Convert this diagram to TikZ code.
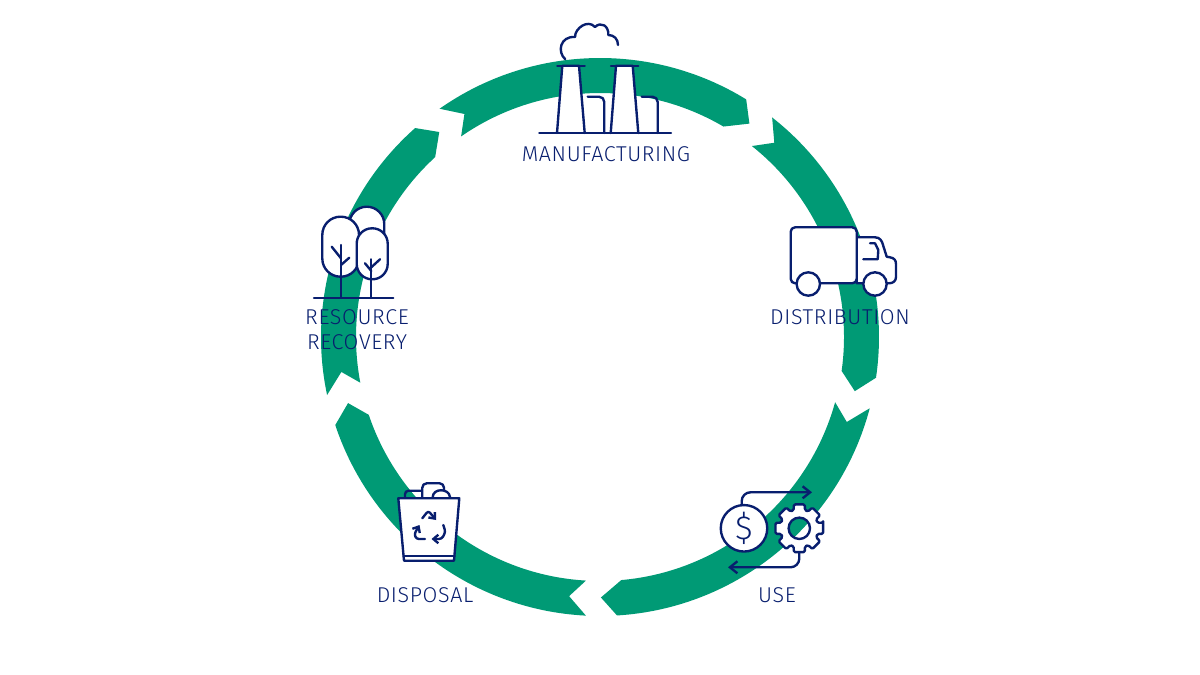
\documentclass[tikz,border=0pt]{standalone}
\usepackage{fontspec}
\setmainfont{Fira Sans Light}[LetterSpace=3]
\usetikzlibrary{arrows.meta}

\definecolor{ringgreen}{RGB}{0,154,117}
\definecolor{iconnavy}{RGB}{8,30,110}

\tikzset{
    iconline/.style={draw=iconnavy, line width=1.35pt, line join=round, line cap=round},
    iconfill/.style={iconline, fill=white},
    iconarrow/.style={iconline, -{Straight Barb[length=1.5mm,width=2.4mm]}},
    smallarrow/.style={iconline, rounded corners=1.5pt, -{Straight Barb[length=1mm,width=1.7mm]}},
    steplabel/.style={text=iconnavy, font=\fontsize{12.2pt}{14.2pt}\selectfont, align=center, inner sep=0pt}
}

\begin{document}
\begin{tikzpicture}[x=0.02cm, y=-0.02cm]

    \useasboundingbox (0,0) rectangle (1200,675);

    % Draw the five arrow segments of the ring
    \begin{scope}[shift={(600,337)}, y=0.02cm]
        \foreach \ta/\tn/\ti/\ha/\hn/\hi in {125.1/121.3/124.7/58.4/55/59.6,
                                             51.9/48.1/51.5/-8.4/-12/-8,
                                             -14.8/-19/-15.5/-86.5/-89.8/-85,
                                             -92.9/-96.8/-93.3/-161.6/-165.3/-161.4,
                                             -168/-172.3/-169.2/-228.5/-231.9/-227.5}
            \fill[ringgreen] (\ta:279) arc[start angle=\ta, end angle=\ha, radius=279]
                -- (\hn:260.5) -- (\hi:244) arc[start angle=\hi, end angle=\ti, radius=244]
                -- (\tn:261) -- cycle;
    \end{scope}

    % Factory: smoke, chimneys and low buildings
    \draw[iconline] (565.3,59.3) .. controls (557,52) and (560,36) .. (575,37)
        .. controls (575,28) and (588,19) .. (595,27)
        .. controls (601,21) and (609,26) .. (608.3,35)
        .. controls (614,35) and (618,39) .. (618,45);
    \draw[iconline] (587.7,96.7) [rounded corners=3pt] -- (604.3,96.7) -- (604.3,133);
    \draw[iconline] (641.7,96.7) [rounded corners=3pt] -- (657.7,96.7) -- (657.7,133);
    \draw[iconfill] (557,133) -- (562.3,65.7) -- (579,65.7) -- (584.7,133);
    \draw[iconfill] (610.7,133) -- (616,65.7) -- (632.7,65.7) -- (638.3,133);
    \draw[iconline] (557.3,65.7) -- (584.7,65.7);
    \draw[iconline] (611,65.7) -- (638.3,65.7);
    \draw[iconline] (539.3,133) -- (671,133);
    \node[steplabel] (manufacturing) at (606,154) {MANUFACTURING};

    % Truck
    \draw[iconfill] (856.7,237.3) -- (875,237.3) .. controls (880,237.3) and (882,241) .. (883,245)
        -- (886.7,256.7) -- (890,257.3) .. controls (894,258) and (896,260) .. (896,264)
        -- (896,277) .. controls (896,281) and (893,283.3) .. (889,283.3) -- (856.7,283.3) -- cycle;
    \draw[iconfill, rounded corners=2.5pt] (790.7,227.3) rectangle (856.7,283.3);
    \draw[iconline] (870,243.3) -- (875,243.3) -- (878.3,250) -- (877.7,259.3) -- (863.3,259.3);
    \draw[iconfill] (808.3,284) circle(11.7);
    \draw[iconfill] (875,284) circle(11.7);
    \node[steplabel] (distribution) at (840,317) {DISTRIBUTION};

    % Coin and gear with the two exchange arrows
    \draw[iconarrow, rounded corners=5pt] (741.7,506) -- (741.7,492.3) -- (812,492.3);
    \draw[iconarrow, rounded corners=5pt] (799.3,550) -- (799.3,567.3) -- (728,567.3);
    \node[iconfill, circle, minimum size=0.93cm, inner sep=0pt, text=iconnavy,
          font=\fontsize{19pt}{19pt}\selectfont] (coin) at (744,528.3) {\$};
    \begin{scope}[shift={(799.3,528.3)}]
        \draw[iconfill, even odd rule, rounded corners=0.8pt] (-13:24.5)
            \foreach \a in {0,45,...,315} {
                -- (\a-13:24.5) -- (\a+13:24.5) -- (\a+17:19) -- (\a+28:19)
            } -- cycle
            (0,0) circle(10.7);
    \end{scope}
    \node[steplabel] (use) at (777,595) {USE};

    % Bin with its contents and recycling arrows
    \draw[iconline, rounded corners=2pt] (405,497) -- (405,490.7) -- (422.3,490.7);
    \draw[iconfill, rounded corners=2.5pt] (422.3,497) -- (422.3,483.3) -- (444,483.3) -- (444,492);
    \draw[iconfill] (432.7,497) .. controls (433,488) and (449,488) .. (450,497);
    \draw[iconfill] (398.3,498.3) -- (459.3,498.3) -- (454,560.7) -- (404,560.7) -- cycle;
    \draw[iconline] (403.5,556) -- (454.5,556);
    \draw[smallarrow] (422.3,518.3) -- (428.3,510.7) -- (436,520);
    \draw[smallarrow] (425,539) -- (416.3,539) -- (414.3,534) -- (419.5,525);
    \draw[smallarrow] (443.3,525) -- (445.5,532) -- (441.7,539) -- (431.5,539);
    \node[steplabel] (disposal) at (425,595) {DISPOSAL};

    % Trees
    \draw[iconfill] (349.3,242) -- (349.3,224.2) arc[start angle=180, end angle=360, radius=17.5] -- (384.3,242);
    \draw[iconfill, rounded corners=10.3pt] (322.3,216.7) rectangle (359,276.7);
    \draw[iconline] (341,245) -- (341,298);
    \draw[iconline] (331.7,246.7) -- (341,258.3);
    \draw[iconline] (349.3,257.7) -- (341,265);
    \draw[iconfill, rounded corners=8.7pt] (356.7,228.3) rectangle (387.7,279.3);
    \draw[iconline] (371.3,259.3) -- (371.3,298);
    \draw[iconline] (365,263.3) -- (371.3,271);
    \draw[iconline] (380,259.3) -- (371.3,267.3);
    \draw[iconline] (314,298) -- (393.3,298);
    \node[steplabel] (recovery) at (357,330) {RESOURCE\\RECOVERY};

\end{tikzpicture}
\end{document}
